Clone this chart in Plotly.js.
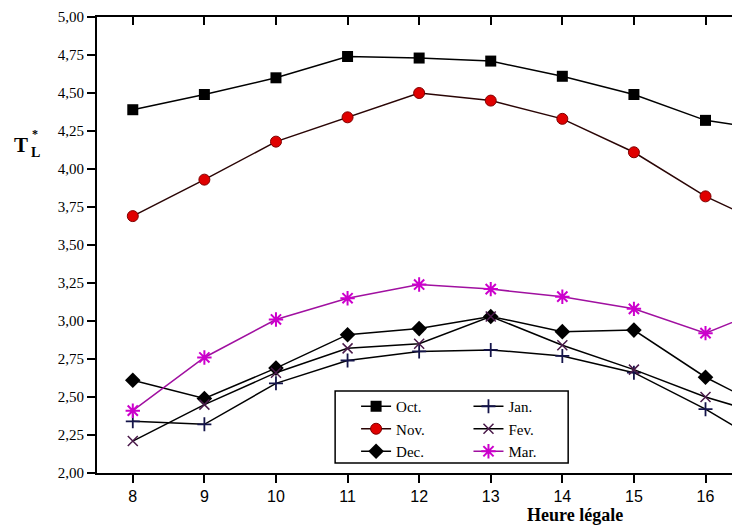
<!DOCTYPE html>
<html>
<head>
<meta charset="utf-8">
<script src="https://cdn.plot.ly/plotly-3.0.1.min.js"></script>
<style>html,body{margin:0;padding:0;background:#fff;}#chart{width:732px;height:527px;}</style>
</head>
<body>
<div id="chart"></div>
<script>
// Hours (heure légale)
const hours = [8, 9, 10, 11, 12, 13, 14, 15, 16, 17];
// Linke turbidity factor T*L per month
const octVals = [4.39, 4.49, 4.60, 4.74, 4.73, 4.71, 4.61, 4.49, 4.32, 4.25];
const novVals = [3.69, 3.93, 4.18, 4.34, 4.50, 4.45, 4.33, 4.11, 3.82, 3.60];
const decVals = [2.61, 2.49, 2.69, 2.91, 2.95, 3.03, 2.93, 2.94, 2.63, 2.39];
const janVals = [2.34, 2.32, 2.59, 2.74, 2.80, 2.81, 2.77, 2.66, 2.42, 2.14];
const fevVals = [2.21, 2.45, 2.66, 2.82, 2.85, 3.03, 2.84, 2.68, 2.50, 2.36];
const marVals = [2.41, 2.76, 3.01, 3.15, 3.24, 3.21, 3.16, 3.08, 2.92, 3.11];
const yTicks = [2.00, 2.25, 2.50, 2.75, 3.00, 3.25, 3.50, 3.75, 4.00, 4.25, 4.50, 4.75, 5.00];
const xTicks = [8, 9, 10, 11, 12, 13, 14, 15, 16];

const serif = "'Liberation Serif', 'Times New Roman', serif";
const sans = "'Liberation Sans', Arial, sans-serif";

function tr(name, y, legend, lineColor, sym, mColor, mLine, size) {
  return {
    x: hours, y: y, name: name, type: 'scatter', mode: 'lines+markers',
    legend: legend,
    line: {color: lineColor, width: 1.5},
    marker: {symbol: sym, color: mColor, size: size, line: mLine}
  };
}

const traces = [
  tr('Oct.', octVals, 'legend', '#000', 'square', '#000', {width: 0}, 11),
  tr('Nov.', novVals, 'legend', '#2a0505', 'circle', '#e00000', {width: 1, color: '#800000'}, 11),
  tr('Dec.', decVals, 'legend', '#000', 'diamond', '#000', {width: 0}, 12),
  tr('Jan.', janVals, 'legend2', '#000', 'cross-thin', '#14144a', {width: 1.8, color: '#14144a'}, 10),
  tr('Fev.', fevVals, 'legend2', '#000', 'x-thin', '#4a1a4a', {width: 1.5, color: '#4a1a4a'}, 10),
  tr('Mar.', marVals, 'legend2', '#a010a0', 'asterisk', '#cc00cc', {width: 2, color: '#cc00cc'}, 12)
];

// invisible trace for the top axis (inside ticks)
traces.push({x: [8], y: [2], xaxis: 'x2', yaxis: 'y', mode: 'markers', showlegend: false,
  marker: {opacity: 0}, hoverinfo: 'skip'});

const legendCommon = {
  font: {family: serif, size: 15, color: '#000'},
  bgcolor: 'rgba(0,0,0,0)', borderwidth: 0,
  orientation: 'v', xanchor: 'left', yanchor: 'top',
  tracegroupgap: 0, itemclick: false
};

const layout = {
  width: 732, height: 527,
  margin: {l: 97, r: 0, t: 17, b: 54},
  paper_bgcolor: '#fff', plot_bgcolor: '#fff',
  separators: ',.',
  showlegend: true,
  xaxis: {
    range: [7.5, 16.37], tickvals: xTicks, ticktext: xTicks.map(String),
    showgrid: false, zeroline: false,
    showline: true, linecolor: '#000', linewidth: 2,
    ticks: 'outside', ticklen: 8, tickwidth: 2, tickcolor: '#000',
    tickfont: {family: sans, size: 16, color: '#000'}
  },
  xaxis2: {
    overlaying: 'x', side: 'top', matches: 'x', range: [7.5, 16.37], tickvals: xTicks,
    showticklabels: false, showgrid: false, zeroline: false,
    showline: true, linecolor: '#000', linewidth: 2,
    ticks: 'inside', ticklen: 8, tickwidth: 2, tickcolor: '#000'
  },
  yaxis: {
    range: [2, 5], tickvals: yTicks, tickformat: '.2f',
    showgrid: false, zeroline: false,
    showline: true, linecolor: '#000', linewidth: 2,
    ticks: 'outside', ticklen: 8, tickwidth: 2, tickcolor: '#000',
    tickfont: {family: serif, size: 15, color: '#000'}
  },
  legend: Object.assign({}, legendCommon, {x: 0.408, y: 0.182}),
  legend2: Object.assign({}, legendCommon, {x: 0.585, y: 0.182}),
  shapes: [{
    type: 'rect', xref: 'paper', yref: 'paper',
    x0: 0.375, x1: 0.742, y0: 0.022, y1: 0.180,
    line: {color: '#000', width: 1.5}, fillcolor: 'rgba(0,0,0,0)'
  }],
  annotations: [
    {text: '<b>Heure légale</b>', xref: 'paper', yref: 'paper', x: (575 - 97) / 635, y: (473 - 527) / 456,
     xanchor: 'center', yanchor: 'bottom', showarrow: false,
     font: {family: serif, size: 18, color: '#000'}},
    {text: '<b>T</b>', xref: 'paper', yref: 'paper', x: (21 - 97) / 635, y: (473 - 145) / 456,
     xanchor: 'center', yanchor: 'middle', showarrow: false,
     font: {family: serif, size: 21, color: '#000'}},
    {text: '<b>L</b>', xref: 'paper', yref: 'paper', x: (35 - 97) / 635, y: (473 - 152) / 456,
     xanchor: 'center', yanchor: 'middle', showarrow: false,
     font: {family: serif, size: 14, color: '#000'}},
    {text: '<b>*</b>', xref: 'paper', yref: 'paper', x: (35 - 97) / 635, y: (473 - 134) / 456,
     xanchor: 'center', yanchor: 'middle', showarrow: false,
     font: {family: serif, size: 12, color: '#000'}}
  ]
};

Plotly.newPlot('chart', traces, layout, {staticPlot: true, displayModeBar: false});
</script>
</body>
</html>
